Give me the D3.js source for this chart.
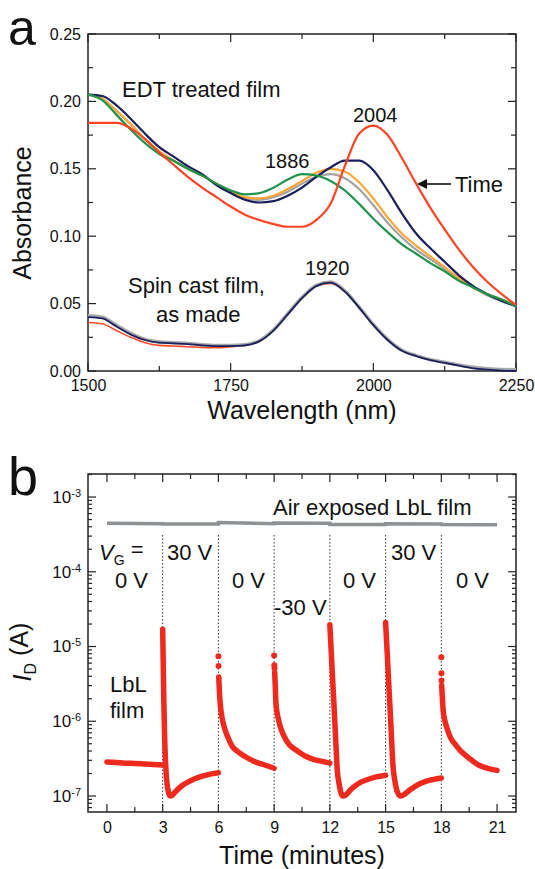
<!DOCTYPE html>
<html>
<head>
<meta charset="utf-8">
<script src="https://cdn.jsdelivr.net/npm/d3@7"></script>
<style>
    body { margin: 0; background: #fff; }
    text { font-family: "Liberation Sans", Arial, sans-serif; fill: #111; }
</style>
</head>
<body>
<div id="chart"></div>
<script>

// ---- panel a: absorbance spectra ----
const wavelengths = [1500, 1525, 1550, 1575, 1600, 1625, 1650, 1675, 1700, 1725, 1750, 1775, 1800, 1825, 1850, 1875,
    1900, 1925, 1950, 1975, 2000, 2025, 2050, 2075, 2100, 2125, 2150, 2175, 2200, 2225, 2250];

const edtGray   = [0.205, 0.202, 0.193, 0.183, 0.172, 0.163, 0.156, 0.150, 0.145, 0.139, 0.133, 0.128, 0.127, 0.129, 0.133, 0.139,
    0.144, 0.146, 0.143, 0.135, 0.123, 0.110, 0.099, 0.090, 0.083, 0.076, 0.069, 0.062, 0.056, 0.052, 0.048];
const edtOrange = [0.205, 0.202, 0.193, 0.183, 0.172, 0.163, 0.156, 0.150, 0.145, 0.139, 0.133, 0.129, 0.128, 0.130, 0.135, 0.141,
    0.147, 0.150, 0.148, 0.140, 0.128, 0.114, 0.102, 0.093, 0.085, 0.077, 0.069, 0.062, 0.057, 0.053, 0.049];
const edtNavy   = [0.205, 0.204, 0.197, 0.187, 0.176, 0.166, 0.159, 0.152, 0.146, 0.138, 0.132, 0.127, 0.125, 0.126, 0.130, 0.136,
    0.144, 0.151, 0.156, 0.156, 0.149, 0.134, 0.117, 0.102, 0.091, 0.081, 0.071, 0.063, 0.057, 0.052, 0.048];
const edtGreen  = [0.205, 0.201, 0.190, 0.179, 0.169, 0.161, 0.156, 0.150, 0.145, 0.139, 0.134, 0.131, 0.132, 0.136, 0.142, 0.146,
    0.145, 0.141, 0.134, 0.124, 0.113, 0.103, 0.094, 0.087, 0.080, 0.074, 0.067, 0.062, 0.057, 0.053, 0.048];
const edtRed    = [0.184, 0.184, 0.184, 0.180, 0.172, 0.162, 0.153, 0.144, 0.136, 0.129, 0.122, 0.116, 0.112, 0.109, 0.107, 0.107,
    0.112, 0.124, 0.152, 0.176, 0.182, 0.175, 0.158, 0.139, 0.121, 0.105, 0.090, 0.077, 0.066, 0.057, 0.049];

const spinRed   = [0.036, 0.035, 0.030, 0.025, 0.021, 0.019, 0.0185, 0.018, 0.0175, 0.0172, 0.018, 0.019, 0.0225, 0.031, 0.043, 0.054,
    0.063, 0.065, 0.059, 0.0475, 0.0345, 0.0235, 0.0155, 0.0115, 0.0085, 0.0065, 0.0045, 0.003, 0.002, 0.001, 0.0005];
const spinGray  = [0.041, 0.040, 0.034, 0.028, 0.0235, 0.0215, 0.021, 0.0205, 0.0195, 0.019, 0.019, 0.0195, 0.0225, 0.0305, 0.0425, 0.0545,
    0.0635, 0.066, 0.0595, 0.0475, 0.0345, 0.0235, 0.0155, 0.0115, 0.0085, 0.0065, 0.0045, 0.0028, 0.0018, 0.0012, 0.001];
const spinNavy  = [0.040, 0.039, 0.033, 0.027, 0.023, 0.021, 0.0205, 0.020, 0.019, 0.0185, 0.0185, 0.019, 0.022, 0.030, 0.042, 0.054,
    0.063, 0.0655, 0.059, 0.047, 0.034, 0.023, 0.015, 0.011, 0.008, 0.006, 0.004, 0.002, 0.001, 0.0003, 0.0];

const wlMajorTicks = [1500, 1750, 2000, 2250];
const wlMinorTicks = [1625, 1875, 2125];
const absMajorTicks = [0, 0.05, 0.10, 0.15, 0.20, 0.25];
const absMinorTicks = [0.025, 0.075, 0.125, 0.175, 0.225];

// ---- panel b: drain current vs time ----
const airT = [0, 3, 3, 6, 6, 9, 9, 12, 12, 15, 15, 18, 18, 21];
const airI = [4.45e-4, 4.4e-4, 4.35e-4, 4.35e-4, 4.55e-4, 4.4e-4, 4.5e-4, 4.45e-4, 4.3e-4, 4.3e-4, 4.4e-4, 4.35e-4, 4.3e-4, 4.25e-4];

const seg0T = [0, 0.5, 1, 1.5, 2, 2.5, 3];
const seg0I = [2.85e-7, 2.8e-7, 2.75e-7, 2.72e-7, 2.68e-7, 2.64e-7, 2.6e-7];
const seg1T = [3.0, 3.03, 3.06, 3.1, 3.15, 3.2, 3.3, 3.4, 3.5, 3.7, 4.0, 4.5, 5.0, 5.5, 6.0];
const seg1I = [1.7e-5, 6e-6, 2e-6, 7e-7, 3e-7, 1.8e-7, 1.15e-7, 1.0e-7, 1.02e-7, 1.15e-7, 1.35e-7, 1.6e-7, 1.8e-7, 1.95e-7, 2.05e-7];
const seg2T = [6.02, 6.05, 6.1, 6.2, 6.35, 6.5, 6.75, 7.0, 7.5, 8.0, 8.5, 9.0];
const seg2I = [3.9e-6, 2.6e-6, 1.7e-6, 1.1e-6, 7.8e-7, 6.2e-7, 4.6e-7, 4.0e-7, 3.3e-7, 2.85e-7, 2.6e-7, 2.35e-7];
const seg3T = [9.03, 9.06, 9.1, 9.2, 9.35, 9.55, 9.8, 10.2, 10.7, 11.2, 11.6, 12.0];
const seg3I = [4.5e-6, 3.0e-6, 1.7e-6, 1.15e-6, 8.2e-7, 6.2e-7, 4.9e-7, 4.1e-7, 3.4e-7, 3.05e-7, 2.9e-7, 2.75e-7];
const seg4T = [12.0, 12.1, 12.2, 12.3, 12.4, 12.5, 12.6, 12.7, 12.85, 13.1, 13.5, 14.0, 14.5, 15.0];
const seg4I = [1.95e-5, 6.3e-6, 2.1e-6, 6.8e-7, 2.2e-7, 1.45e-7, 1.1e-7, 1.0e-7, 1.03e-7, 1.2e-7, 1.45e-7, 1.65e-7, 1.8e-7, 1.9e-7];
const seg5T = [15.0, 15.1, 15.2, 15.3, 15.4, 15.5, 15.6, 15.8, 16.0, 16.3, 16.7, 17.2, 17.6, 18.0];
const seg5I = [2.1e-5, 7.1e-6, 2.3e-6, 7.6e-7, 2.5e-7, 1.6e-7, 1.2e-7, 1.0e-7, 1.05e-7, 1.2e-7, 1.4e-7, 1.58e-7, 1.67e-7, 1.74e-7];
const seg6T = [18.02, 18.05, 18.1, 18.2, 18.35, 18.5, 18.75, 19.0, 19.5, 20.0, 20.5, 21.0];
const seg6I = [3.0e-6, 2.2e-6, 1.4e-6, 1.0e-6, 7.5e-7, 6.0e-7, 4.9e-7, 4.1e-7, 3.2e-7, 2.6e-7, 2.35e-7, 2.2e-7];

// isolated points at the start of the 0 V / -30 V steps
const spikeT = [6.0, 6.01, 9.0, 9.01, 9.02, 18.0, 18.005, 18.01];
const spikeI = [7.4e-6, 5.5e-6, 7.6e-6, 5.6e-6, 5.1e-6, 7.2e-6, 4.4e-6, 3.5e-6];

const switchTimes = [3, 6, 9, 12, 15, 18];
const timeMajorTicks = [0, 3, 6, 9, 12, 15, 18, 21];
const timeMinorTicks = [1.5, 4.5, 7.5, 10.5, 13.5, 16.5, 19.5];
const currentDecades = [1e-7, 1e-6, 1e-5, 1e-4, 1e-3];


const svg = d3.select('#chart').append('svg')
    .attr('width', 535)
    .attr('height', 869);

function zip(xs, ys) {
    return xs.map((x, i) => ({x: x, y: ys[i]}));
}

// draws inward ticks on all four sides of a frame
function frameTicks(g, x, y, xMajor, xMinor, yMajor, yMinor, yMinorLen) {
    const [x0, x1] = x.range();
    const [y0, y1] = y.range();   // y0 bottom, y1 top
    const tick = (vals, len, side) => {
        g.append('g').selectAll('line').data(vals).enter().append('line')
            .attr('x1', d => side === 'b' || side === 't' ? x(d) : (side === 'l' ? x0 : x1))
            .attr('x2', d => side === 'b' || side === 't' ? x(d) : (side === 'l' ? x0 + len : x1 - len))
            .attr('y1', d => side === 'b' ? y0 : side === 't' ? y1 : y(d))
            .attr('y2', d => side === 'b' ? y0 - len : side === 't' ? y1 + len : y(d))
            .attr('stroke', '#222')
            .attr('stroke-width', 1.2);
    };
    ['b', 't'].forEach(s => { tick(xMajor, 8, s); tick(xMinor, 5, s); });
    ['l', 'r'].forEach(s => { tick(yMajor, 8, s); tick(yMinor, yMinorLen, s); });

    g.append('rect')
        .attr('x', x0).attr('y', y1)
        .attr('width', x1 - x0).attr('height', y0 - y1)
        .attr('fill', 'none')
        .attr('stroke', '#222')
        .attr('stroke-width', 1.5);
}


class SpectraChart {

    constructor(svg) {
        this.svg = svg;
        this.initVis();
    }

    initVis() {
        let vis = this;

        vis.xScale = d3.scaleLinear().domain([1500, 2250]).range([88, 516]);
        vis.yScale = d3.scaleLinear().domain([0, 0.25]).range([371, 34]);

        vis.g = vis.svg.append('g');

        vis.g.append('text')
            .attr('x', 8).attr('y', 45)
            .style('font-size', '50px')
            .text('a');

        // tick labels
        vis.g.append('g')
            .attr('transform', 'translate(0, 371)')
            .call(d3.axisBottom(vis.xScale).tickValues(wlMajorTicks).tickSize(0).tickPadding(9)
                .tickFormat(d3.format('d')))
            .call(g => g.select('.domain').remove())
            .selectAll('text')
            .style('font-size', '16px')
            .style('font-family', '"Liberation Sans", Arial, sans-serif');

        vis.g.append('g')
            .attr('transform', 'translate(88, 0)')
            .call(d3.axisLeft(vis.yScale).tickValues(absMajorTicks).tickSize(0).tickPadding(7)
                .tickFormat(d3.format('.2f')))
            .call(g => g.select('.domain').remove())
            .selectAll('text')
            .style('font-size', '16px')
            .style('font-family', '"Liberation Sans", Arial, sans-serif');

        frameTicks(vis.g, vis.xScale, vis.yScale, wlMajorTicks, wlMinorTicks, absMajorTicks, absMinorTicks, 5);

        // axis titles
        vis.g.append('text')
            .attr('transform', 'translate(31, 213) rotate(-90)')
            .attr('text-anchor', 'middle')
            .style('font-size', '25px')
            .text('Absorbance');

        vis.g.append('text')
            .attr('x', 302).attr('y', 419)
            .attr('text-anchor', 'middle')
            .style('font-size', '25px')
            .text('Wavelength (nm)');

        // annotations
        const note = (x, y, txt, size) => vis.g.append('text')
            .attr('x', x).attr('y', y)
            .style('font-size', size)
            .text(txt);

        note(122, 97, 'EDT treated film', '22px');
        note(353, 122, '2004', '20px');
        note(265, 168, '1886', '20px');
        note(305, 275, '1920', '20px');
        note(455, 192, 'Time', '22px');
        note(128, 293, 'Spin cast film,', '22px');
        note(156, 322, 'as made', '22px');

        vis.g.append('line')
            .attr('x1', 451).attr('x2', 424)
            .attr('y1', 184).attr('y2', 184)
            .attr('stroke', '#111').attr('stroke-width', 1.6);
        vis.g.append('path')
            .attr('d', 'M417,184 L427,179 L427,189 Z')
            .attr('fill', '#111');

        vis.updateVis();
    }

    updateVis() {
        let vis = this;

        vis.line = d3.line()
            .x(d => vis.xScale(d.x))
            .y(d => vis.yScale(d.y))
            .curve(d3.curveMonotoneX);

        const series = [
            {vals: spinRed, color: '#ff4a26', w: 1.6},
            {vals: spinGray, color: '#a6a8ab', w: 3.4},
            {vals: spinNavy, color: '#1b1f5c', w: 1.8},
            {vals: edtGray, color: '#a3a3a3', w: 2.2},
            {vals: edtOrange, color: '#ffa534', w: 2.2},
            {vals: edtNavy, color: '#1b1f5c', w: 2.2},
            {vals: edtGreen, color: '#1f944a', w: 2.2},
            {vals: edtRed, color: '#ff4424', w: 2.2}
        ];

        vis.g.append('g')
            .selectAll('path')
            .data(series)
            .enter()
            .append('path')
            .attr('d', d => vis.line(zip(wavelengths, d.vals)))
            .attr('fill', 'none')
            .attr('stroke', d => d.color)
            .attr('stroke-width', d => d.w)
            .attr('stroke-linejoin', 'round');
    }
}


class CurrentChart {

    constructor(svg) {
        this.svg = svg;
        this.initVis();
    }

    initVis() {
        let vis = this;

        vis.xScale = d3.scaleLinear().domain([-1.02, 22.02]).range([88, 516]);
        vis.yScale = d3.scaleLog().domain([Math.pow(10, -7.214), Math.pow(10, -2.692)]).range([812, 474]);

        vis.g = vis.svg.append('g');

        vis.g.append('text')
            .attr('x', 8).attr('y', 495)
            .style('font-size', '54px')
            .text('b');

        vis.g.append('g')
            .attr('transform', 'translate(0, 812)')
            .call(d3.axisBottom(vis.xScale).tickValues(timeMajorTicks).tickSize(0).tickPadding(10))
            .call(g => g.select('.domain').remove())
            .selectAll('text')
            .style('font-size', '16px')
            .style('font-family', '"Liberation Sans", Arial, sans-serif');

        vis.g.append('g')
            .attr('transform', 'translate(88, 0)')
            .call(d3.axisLeft(vis.yScale).tickValues(currentDecades).tickSize(0).tickPadding(7))
            .call(g => g.select('.domain').remove())
            .selectAll('text')
            .style('font-size', '17px')
            .style('font-family', '"Liberation Sans", Arial, sans-serif')
            .each(function (d) {
                const t = d3.select(this).text(null);
                t.append('tspan').text('10');
                t.append('tspan')
                    .attr('dy', '-0.55em')
                    .style('font-size', '11px')
                    .text(Math.round(Math.log10(d)));
            });

        // minor log ticks 2..9 of every decade inside the domain
        const minor = [];
        [1e-8, 1e-7, 1e-6, 1e-5, 1e-4, 1e-3].forEach(dec => {
            [2, 3, 4, 5, 6, 7, 8, 9].forEach(m => minor.push(dec * m));
        });
        const [lo, hi] = vis.yScale.domain();
        const minorIn = minor.filter(v => v > lo && v < hi);

        frameTicks(vis.g, vis.xScale, vis.yScale, timeMajorTicks, timeMinorTicks, currentDecades, minorIn, 4);

        // axis titles
        const yTitle = vis.g.append('text')
            .attr('transform', 'translate(31, 652) rotate(-90)')
            .attr('text-anchor', 'middle')
            .style('font-size', '25px');
        yTitle.append('tspan').style('font-style', 'italic').text('I');
        yTitle.append('tspan').attr('dy', '0.3em').style('font-size', '16px').text('D');
        yTitle.append('tspan').attr('dy', '-0.3em').text(' (A)');

        vis.g.append('text')
            .attr('x', 302).attr('y', 864)
            .attr('text-anchor', 'middle')
            .style('font-size', '25px')
            .text('Time (minutes)');

        // annotations
        const note = (x, y, txt) => vis.g.append('text')
            .attr('x', x).attr('y', y)
            .style('font-size', '22px')
            .text(txt);

        note(273, 515, 'Air exposed LbL film');
        const vg = vis.g.append('text').attr('x', 99).attr('y', 560).style('font-size', '22px');
        vg.append('tspan').style('font-style', 'italic').text('V');
        vg.append('tspan').attr('dy', '0.35em').style('font-size', '14px').text('G');
        vg.append('tspan').attr('dy', '-0.35em').text(' =');
        note(167, 560, '30 V');
        note(115, 588, '0 V');
        note(232, 588, '0 V');
        note(274, 615, '-30 V');
        note(343, 588, '0 V');
        note(391, 560, '30 V');
        note(456, 588, '0 V');
        note(110, 692, 'LbL');
        note(110, 718, 'film');

        vis.updateVis();
    }

    updateVis() {
        let vis = this;

        // dotted switching lines
        vis.g.append('g')
            .selectAll('line')
            .data(switchTimes)
            .enter()
            .append('line')
            .attr('x1', d => vis.xScale(d))
            .attr('x2', d => vis.xScale(d))
            .attr('y1', vis.yScale(3.1e-4))
            .attr('y2', 812)
            .attr('stroke', '#333')
            .attr('stroke-width', 1)
            .attr('stroke-dasharray', '1.5,2');

        // air exposed film
        vis.g.append('path')
            .attr('d', d3.line()
                .x(d => vis.xScale(d.x))
                .y(d => vis.yScale(d.y))(zip(airT, airI)))
            .attr('fill', 'none')
            .attr('stroke', '#8e9294')
            .attr('stroke-width', 3.5);

        vis.line = d3.line()
            .x(d => vis.xScale(d.x))
            .y(d => vis.yScale(d.y))
            .curve(d3.curveMonotoneX);

        const segs = [
            zip(seg0T, seg0I), zip(seg1T, seg1I), zip(seg2T, seg2I), zip(seg3T, seg3I),
            zip(seg4T, seg4I), zip(seg5T, seg5I), zip(seg6T, seg6I)
        ];

        vis.g.append('g')
            .selectAll('path')
            .data(segs)
            .enter()
            .append('path')
            .attr('d', d => vis.line(d))
            .attr('fill', 'none')
            .attr('stroke', '#ee2a1e')
            .attr('stroke-width', 5.5)
            .attr('stroke-linecap', 'round')
            .attr('stroke-linejoin', 'round');

        vis.g.append('g')
            .selectAll('circle')
            .data(zip(spikeT, spikeI))
            .enter()
            .append('circle')
            .attr('cx', d => vis.xScale(d.x))
            .attr('cy', d => vis.yScale(d.y))
            .attr('r', 3)
            .attr('fill', '#ee2a1e');
    }
}

new SpectraChart(svg);
new CurrentChart(svg);

</script>
</body>
</html>
